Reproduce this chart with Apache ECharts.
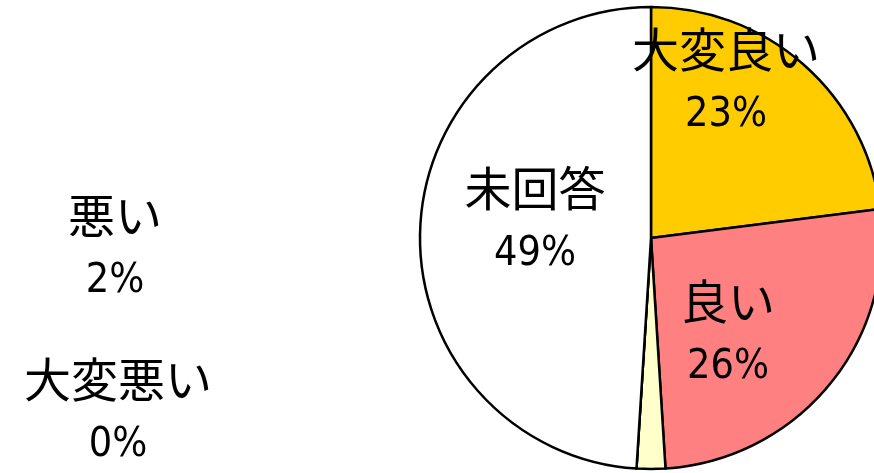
<!DOCTYPE html>
<html>
<head>
<meta charset="utf-8">
<script src="https://cdn.jsdelivr.net/npm/echarts@6/dist/echarts.min.js"></script>
<style>
  html, body { margin: 0; padding: 0; background: #fff; }
  #chart { width: 874px; height: 473px; }
</style>
</head>
<body>
<div id="chart"></div>
<script>
// 回答の内訳 (%)
var categories = ['大変良い', '良い', '悪い', '大変悪い', '未回答'];
var values = [23, 26, 2, 0, 49];
var colors = ['#FFCC00', '#FF8080', '#FFFFCC', '#CCFFCC', '#FFFFFF'];

// label anchor points (Excel placed them by hand)
var labelPos = [[726, 82], [728, 334], [115, 248], [118, 412], [535, 221]];

var chart = echarts.init(document.getElementById('chart'));
var option = {
    animation: false,
    series: [
        {
            type: 'pie',
            center: [651, 238],
            radius: 231,
            startAngle: 90,
            clockwise: true,
            avoidLabelOverlap: false,
            data: categories.map(function (name, i) {
                return { name: name, value: values[i], itemStyle: { color: colors[i] } };
            }),
            itemStyle: {
                borderColor: '#000',
                borderWidth: 2.5
            },
            label: {
                show: true,
                position: 'inside',
                formatter: '{n|{b}}\n{p|{d}%}',
                rich: {
                    n: {
                        fontFamily: '"Noto Sans CJK JP"',
                        fontSize: 47,
                        color: '#000',
                        lineHeight: 66
                    },
                    p: {
                        fontFamily: '"Liberation Sans Narrow", "DejaVu Sans Condensed", "Noto Sans"',
                        fontSize: 41,
                        color: '#000',
                        lineHeight: 66
                    }
                }
            },
            labelLine: { show: false },
            labelLayout: function (params) {
                var p = labelPos[params.dataIndex];
                return { x: p[0], y: p[1], align: 'center', verticalAlign: 'middle', hideOverlap: false };
            },
            emphasis: { disabled: true }
        }
    ]
};
chart.setOption(option);
</script>
</body>
</html>
